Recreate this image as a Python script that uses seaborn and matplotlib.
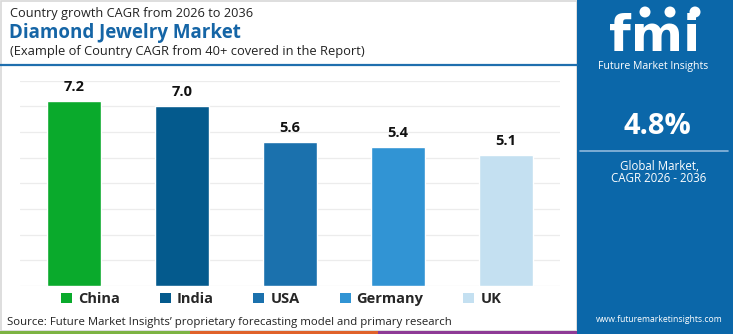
import matplotlib
matplotlib.use("Agg")
import matplotlib.pyplot as plt
import seaborn as sns
import pandas as pd
from matplotlib.patches import Rectangle, Patch, Ellipse
from matplotlib.lines import Line2D

countries = ["China", "India", "USA", "Germany", "UK"]
cagr = [7.2, 7.0, 5.6, 5.4, 5.1]
bar_colors = ["#0aaa2c", "#045a8d", "#1b71ad", "#3194d4", "#c4e0f1"]
yticks = [0, 1, 2, 3, 4, 5, 6, 7, 8]

title_top = "Country growth CAGR from 2026 to 2036"
title_main = "Diamond Jewelry Market"
title_sub = "(Example of Country CAGR from 40+ covered in the Report)"
source = "Source: Future Market Insights\u2019 proprietary forecasting model and primary research"
global_cagr = "4.8%"

sns.set_theme(style="white")
plt.rcParams["font.family"] = ["Open Sans", "DejaVu Sans"]

W, H = 750, 334
fig = plt.figure(figsize=(W / 100, H / 100), dpi=100)
fig.patch.set_facecolor("white")

def fx(px):
    return px / W

def fy(py):
    return 1 - py / H

PANEL = "#0b67a9"

# frame around left content
fig.add_artist(Rectangle((fx(1), fy(331)), fx(576), 330 / H, transform=fig.transFigure,
                         facecolor="none", edgecolor="#d8d8d8", lw=1.2))

# right panel
fig.add_artist(Rectangle((fx(577), 0), fx(156), 1, transform=fig.transFigure,
                         facecolor=PANEL, edgecolor="none"))

# header line
fig.add_artist(Line2D([0, fx(577)], [fy(64.7), fy(64.7)], transform=fig.transFigure,
                      color="#1f6fae", lw=1.6))

# bottom stripe
for x0, x1, c in [(0, 190, "#7cb342"), (190, 378, "#e0622a"), (378, 577, "#8e3a96")]:
    fig.add_artist(Rectangle((fx(x0), 0), fx(x1 - x0), 3.5 / H, transform=fig.transFigure,
                             facecolor=c, edgecolor="none"))

# titles
fig.text(fx(10), fy(14), title_top, fontsize=9.2, color="#222222", va="center", ha="left")
fig.text(fx(9), fy(33), title_main, fontsize=13.5, fontweight="bold", color="#1565a6",
         va="center", ha="left")
fig.text(fx(10), fy(52), title_sub, fontsize=9.3, color="#222222", va="center", ha="left")

# axes
ax = fig.add_axes([fx(20), fy(286), fx(540), (286 - 80.7) / H])
df = pd.DataFrame({"country": countries, "cagr": cagr})
sns.barplot(data=df, x="country", y="cagr", hue="country", palette=bar_colors,
            width=0.5, legend=False, ax=ax, saturation=1)
ax.set_xlim(-0.5, 4.5)
ax.set_ylim(0, 8)
ax.set_yticks(yticks)
ax.yaxis.grid(True, color="#ececec", lw=0.9)
ax.set_axisbelow(True)
ax.tick_params(left=False, bottom=False, labelleft=False, labelbottom=False)
for s in ax.spines.values():
    s.set_visible(False)
ax.set_xlabel("")
ax.set_ylabel("")
for cont in ax.containers:
    ax.bar_label(cont, fmt="%.1f", padding=5, fontsize=10.5, fontweight="bold",
                 color="#111111")

# legend
handles = [Patch(facecolor=c, edgecolor="none") for c in bar_colors]
fig.legend(handles, countries, loc="center", bbox_to_anchor=(fx(281), fy(299)), ncol=5,
           frameon=False, handlelength=0.75, handleheight=0.75, handletextpad=0.4,
           columnspacing=2.75, prop={"weight": "bold", "size": 10.5})

# source
fig.text(fx(7), fy(322), source, fontsize=8.2, color="#222222", va="center", ha="left")

# panel content: logo
fig.text(fx(655), fy(51), "fmi", fontsize=36, fontweight="bold", color="white",
         ha="center", va="baseline", family=["DejaVu Sans"])
for yy in range(22, 52, 5):
    fig.add_artist(Line2D([fx(595), fx(715)], [fy(yy), fy(yy)], transform=fig.transFigure,
                          color=PANEL, lw=0.9))
for cx in [645, 670, 695]:
    fig.add_artist(Ellipse((fx(cx), fy(12)), fx(11), 11 / H, transform=fig.transFigure,
                           facecolor="white", edgecolor="none"))
fig.text(fx(653), fy(67), "Future Market Insights", fontsize=7.6, color="white",
         ha="center", va="center")
fig.text(fx(657), fy(127), global_cagr, fontsize=21, fontweight="bold", color="white",
         ha="center", va="center")
fig.add_artist(Line2D([fx(580), fx(728)], [fy(151), fy(151)], transform=fig.transFigure,
                      color="#8fb8dc", lw=1.2))
fig.text(fx(660), fy(166), "Global Market,", fontsize=8.3, color="white",
         ha="center", va="center")
fig.text(fx(659), fy(179), "CAGR 2026 - 2036", fontsize=8.3, color="white",
         ha="center", va="center")
fig.text(fx(659), fy(320), "www.futuremarketinsights.com", fontsize=6.2, color="white",
         ha="center", va="center")

fig.savefig("out.png", dpi=100, facecolor="white")
